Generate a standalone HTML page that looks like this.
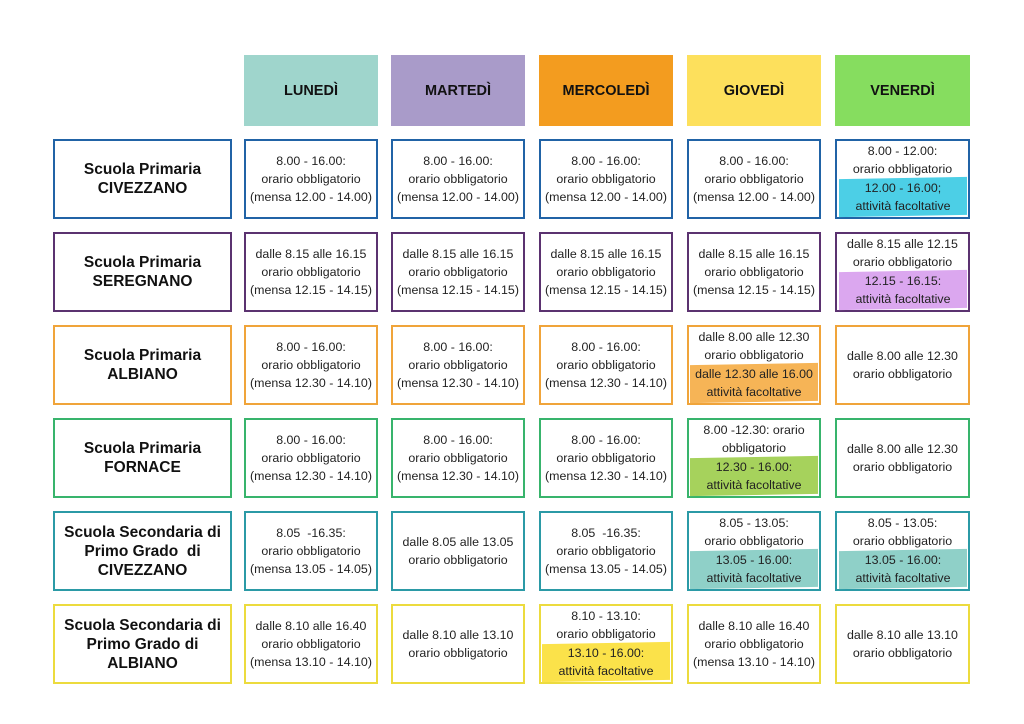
<!DOCTYPE html><html><head><meta charset="utf-8"><style>
body{margin:0;width:1024px;height:724px;background:#fff;font-family:"Liberation Sans",sans-serif;position:relative;overflow:hidden}
.c{position:absolute;box-sizing:border-box;border:2px solid;display:flex;flex-direction:column;justify-content:center;align-items:center;text-align:center;font-size:12.4px;line-height:18px;color:#222}
.h{position:absolute;top:55px;height:71px;display:flex;align-items:center;justify-content:center;font-weight:bold;font-size:14.5px;color:#111}
.l{font-weight:bold;font-size:15.5px;line-height:19px;color:#111}
.hl{width:128px;padding:1px 0;transform:skewY(-1deg)}
.hl span{display:block;transform:skewY(1deg)}
</style></head><body>
<div class="h" style="left:244px;width:134px;background:#9fd5cc">LUNEDÌ</div>
<div class="h" style="left:391px;width:134px;background:#a99bc9">MARTEDÌ</div>
<div class="h" style="left:539px;width:134px;background:#f39c1f">MERCOLEDÌ</div>
<div class="h" style="left:687px;width:134px;background:#fde05c">GIOVEDÌ</div>
<div class="h" style="left:835px;width:135px;background:#86dd5f">VENERDÌ</div>
<div id="g"></div>
<script>
var X=[244,391,539,687,835],W=[134,134,134,134,135],Y=[139,232,325,418,511,604];
var BC=['#2163a6','#5b3270','#f0a43a','#38b46c','#2b9aa6','#ecdb3e'];
var L=[['Scuola Primaria','CIVEZZANO'],['Scuola Primaria','SEREGNANO'],['Scuola Primaria','ALBIANO'],['Scuola Primaria','FORNACE'],['Scuola Secondaria di','Primo Grado&nbsp; di','CIVEZZANO'],['Scuola Secondaria di','Primo Grado di','ALBIANO']];
var A=['8.00 - 16.00:','orario obbligatorio','(mensa 12.00 - 14.00)'],B=['dalle 8.15 alle 16.15','orario obbligatorio','(mensa 12.15 - 14.15)'],C=['8.00 - 16.00:','orario obbligatorio','(mensa 12.30 - 14.10)'];
var D=[
[A,A,A,A,[['8.00 - 12.00:','orario obbligatorio'],['12.00 - 16.00;','attività facoltative'],'#4ccfe6']],
[B,B,B,B,[['dalle 8.15 alle 12.15','orario obbligatorio'],['12.15 - 16.15:','attività facoltative'],'#dba7ef']],
[C,C,C,[['dalle 8.00 alle 12.30','orario obbligatorio'],['dalle 12.30 alle 16.00','attività facoltative'],'#f6b456'],['dalle 8.00 alle 12.30','orario obbligatorio']],
[C,C,C,[['8.00 -12.30: orario','obbligatorio'],['12.30 - 16.00:','attività facoltative'],'#a6d25c'],['dalle 8.00 alle 12.30','orario obbligatorio']],
[['8.05&nbsp; -16.35:','orario obbligatorio','(mensa 13.05 - 14.05)'],['dalle 8.05 alle 13.05','orario obbligatorio'],['8.05&nbsp; -16.35:','orario obbligatorio','(mensa 13.05 - 14.05)'],[['8.05 - 13.05:','orario obbligatorio'],['13.05 - 16.00:','attività facoltative'],'#8fd0c8'],[['8.05 - 13.05:','orario obbligatorio'],['13.05 - 16.00:','attività facoltative'],'#8fd0c8']],
[['dalle 8.10 alle 16.40','orario obbligatorio','(mensa 13.10 - 14.10)'],['dalle 8.10 alle 13.10','orario obbligatorio'],[['8.10 - 13.10:','orario obbligatorio'],['13.10 - 16.00:','attività facoltative'],'#fbe24a'],['dalle 8.10 alle 16.40','orario obbligatorio','(mensa 13.10 - 14.10)'],['dalle 8.10 alle 13.10','orario obbligatorio']]];
var h='';
for(var r=0;r<6;r++){
h+='<div class="c l" style="left:53px;top:'+Y[r]+'px;width:179px;height:80px;border-color:'+BC[r]+'">'+L[r].map(function(s){return '<div>'+s+'</div>'}).join('')+'</div>';
for(var c=0;c<5;c++){var d=D[r][c],inner;
if(Array.isArray(d[0])){inner=d[0].map(function(s){return '<div>'+s+'</div>'}).join('')+'<div class="hl" style="background:'+d[2]+'"><span>'+d[1].join('<br>')+'</span></div>';}
else inner=d.map(function(s){return '<div>'+s+'</div>'}).join('');
h+='<div class="c" style="left:'+X[c]+'px;top:'+Y[r]+'px;width:'+W[c]+'px;height:80px;border-color:'+BC[r]+'">'+inner+'</div>';}}
document.getElementById('g').innerHTML=h;
</script>
</body></html>
